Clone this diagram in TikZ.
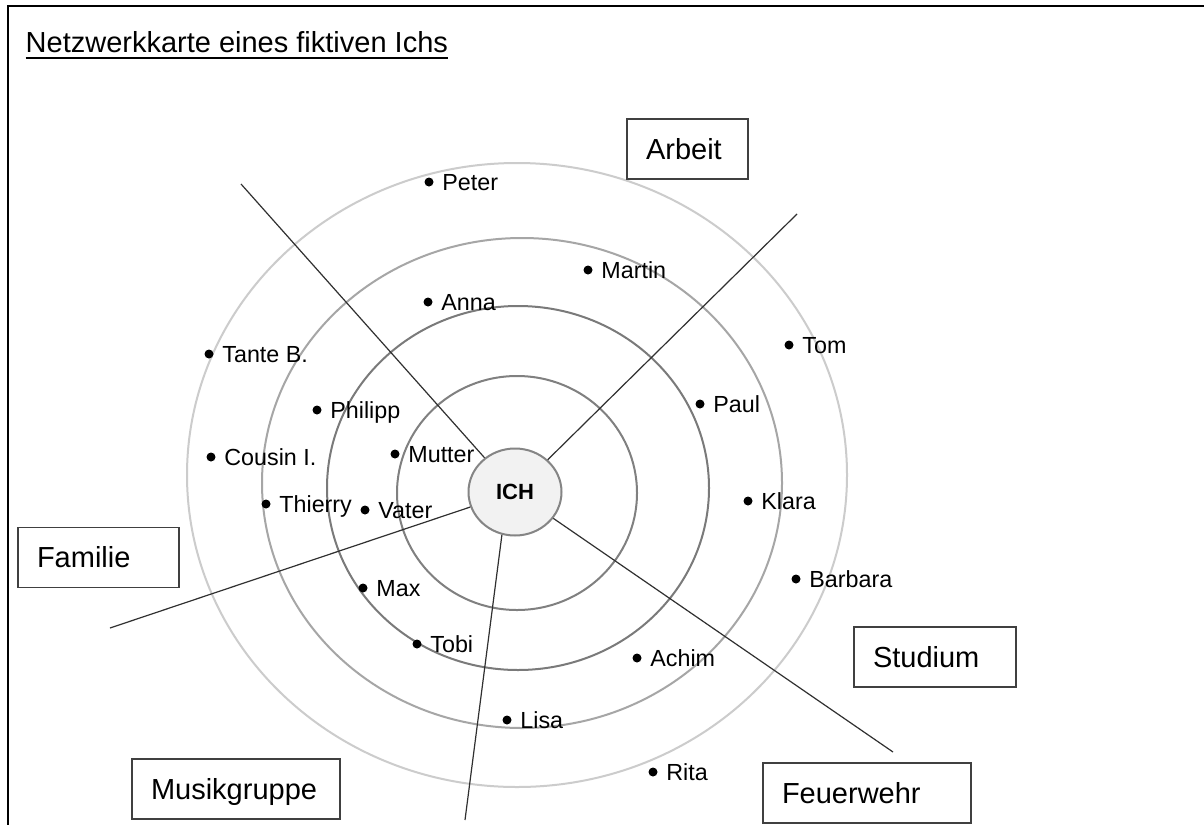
\documentclass[tikz,border=0pt]{standalone}
\usepackage{fontspec}
\setmainfont{Liberation Sans}
\usetikzlibrary{shapes.geometric}

\definecolor{ringone}{HTML}{808080}
\definecolor{ringtwo}{HTML}{7A7A7A}
\definecolor{ringthree}{HTML}{A6A6A6}
\definecolor{ringfour}{HTML}{CCCCCC}
\definecolor{ichfill}{HTML}{F2F2F2}
\definecolor{ichline}{HTML}{858585}
\definecolor{boxline}{HTML}{404040}
\definecolor{spokeline}{HTML}{303030}

\tikzset{
  frameline/.style={line width=2.5pt, black},
  ring/.style={line width=2pt},
  spoke/.style={line width=1.2pt, spokeline},
  ichnode/.style={ellipse, draw=ichline, line width=2pt, fill=ichfill,
    minimum width=93pt, minimum height=87pt, inner sep=0pt,
    font=\fontsize{22}{26}\selectfont\bfseries, text height=15.8pt, text depth=0pt},
  sector/.style={rectangle, draw=boxline, line width=1.5pt, fill=white,
    minimum height=60pt, inner xsep=19pt, inner ysep=0pt, align=left,
    font=\fontsize{29}{34}\selectfont, text height=20.8pt, text depth=0pt},
  person/.style={circle, fill=black, minimum size=9pt, inner sep=0pt},
  personlabel/.style={inner sep=0pt, label distance=8.5pt,
    font=\fontsize{23.3}{27}\selectfont, text height=16.7pt, text depth=0pt},
}

\begin{document}
\begin{tikzpicture}[x=1pt, y=-1pt]
\useasboundingbox (0,0) rectangle (1204,825);
\fill[white] (0,0) rectangle (1204,825);

% page frame (top and left edges)
\draw[frameline] (1204,6) -- (8,6) -- (8,825);

% title with underline
\node[anchor=base west, inner sep=0pt, font=\fontsize{29}{34}\selectfont] (title) at (25.5,52)
  {Netzwerkkarte eines fiktiven Ichs};
\draw[line width=1.8pt] ([yshift=-6pt]title.base west) -- ([yshift=-6pt]title.base east);

% concentric rings of closeness
\draw[ring, ringfour]  (517,475) ellipse [x radius=330pt, y radius=312pt];
\draw[ring, ringthree] (522,483) ellipse [x radius=260pt, y radius=245pt];
\draw[ring, ringtwo]   (518,488) ellipse [x radius=191pt, y radius=182pt];
\draw[ring, ringone]   (517,493) ellipse [x radius=120pt, y radius=117pt];

% outer ends of the sector dividers
\coordinate (ulend)  at (241,184);
\coordinate (urend)  at (797,214);
\coordinate (famend) at (110,628);
\coordinate (botend) at (465,820);
\coordinate (fwend)  at (893,752);

% centre
\node[ichnode] (ich) at (515,492) {ICH};

% sector dividers
\draw[spoke] (ich) -- (ulend);
\draw[spoke] (ich) -- (urend);
\draw[spoke] (ich) -- (famend);
\draw[spoke] (ich.-107) -- (botend);
\draw[spoke] (ich) -- (fwend);

% persons
\foreach \nm/\px/\py/\txt in {
  peter/429/182/Peter, martin/588/270/Martin, anna/428/302/Anna,
  tom/789/345/Tom, tante/209/354/Tante B., philipp/317/410/Philipp,
  paul/700/404/Paul, cousin/211/457/Cousin I., mutter/395/454/Mutter,
  thierry/266/504/Thierry, vater/365/510/Vater, klara/748/501/Klara,
  barbara/796/579/Barbara, max/363/588/Max, tobi/417/644/Tobi,
  achim/637/658/Achim, lisa/507/720/Lisa, rita/653/772/Rita}
  \node[person, label={[personlabel]0:\txt}] (\nm) at (\px,\py) {};

% sector labels
\node[sector, minimum width=121pt, text width=83pt] (arbeit)  at (687.5,149) {Arbeit};
\node[sector, minimum width=161pt, text width=123pt] (familie) at (98.5,557.5) {Familie};
\node[sector, minimum width=162pt, text width=124pt] (studium) at (935,657) {Studium};
\node[sector, minimum width=208pt, text width=170pt] (feuerwehr) at (867,793) {Feuerwehr};
\node[sector, minimum width=208pt, text width=170pt] (musik) at (236,789) {Musikgruppe};
\end{tikzpicture}
\end{document}
